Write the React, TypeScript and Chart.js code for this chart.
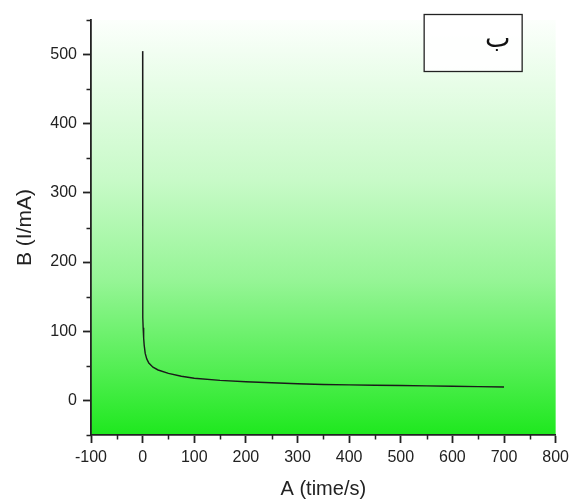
import React, { useEffect, useRef } from "react";
import { Chart, registerables } from "chart.js";

Chart.register(...registerables);

// ---- data ----
const timeValues = [0, 0.3, 1, 2, 3, 5, 8, 12, 20, 30, 50, 75, 100, 150, 200, 250, 300, 350, 400, 450, 500, 550, 600, 650, 700];
const currentValues = [505, 120, 105, 90, 80, 68, 60, 54, 48, 44, 39, 35, 32, 29, 27, 25.5, 24, 23, 22.5, 22, 21.5, 21, 20.5, 20, 19.5];
const xTitle = "A (time/s)";
const yTitle = "B (I/mA)";
const boxLabel = "ب";
const xMin = -100;
const xMax = 800;
const yMin = -50;
const yMax = 550;
const minorStep = 50;
const majorStep = 100;

const FONT = "'Liberation Sans', Arial, sans-serif";
const TEXT = "#222222";

const bgPlugin = {
  id: "bgGradient",
  beforeDraw(chart: any) {
    const { ctx, chartArea } = chart;
    if (!chartArea) return;
    const g = ctx.createLinearGradient(0, chartArea.top, 0, chartArea.bottom);
    g.addColorStop(0, "rgb(252,255,252)");
    g.addColorStop(0.385, "rgb(200,250,200)");
    g.addColorStop(0.627, "rgb(150,245,150)");
    g.addColorStop(0.85, "rgb(80,238,80)");
    g.addColorStop(1, "rgb(30,232,30)");
    ctx.save();
    ctx.fillStyle = g;
    ctx.fillRect(chartArea.left, chartArea.top, chartArea.right - chartArea.left, chartArea.bottom - chartArea.top);
    ctx.restore();
  },
};

const minorTickPlugin = {
  id: "minorTicks",
  afterDraw(chart: any) {
    const { ctx } = chart;
    const xs = chart.scales.x;
    const ys = chart.scales.y;
    ctx.save();
    ctx.strokeStyle = TEXT;
    ctx.lineWidth = 1.5;
    ctx.beginPath();
    xs.ticks.forEach((t: any) => {
      if (t.value % majorStep !== 0) {
        const px = Math.round(xs.getPixelForValue(t.value)) + 0.5;
        ctx.moveTo(px, ys.bottom);
        ctx.lineTo(px, ys.bottom + 4.5);
      }
    });
    ys.ticks.forEach((t: any) => {
      if (t.value % majorStep !== 0) {
        const py = Math.round(ys.getPixelForValue(t.value)) + 0.5;
        ctx.moveTo(xs.left, py);
        ctx.lineTo(xs.left - 4.5, py);
      }
    });
    ctx.stroke();
    ctx.restore();
  },
};

const boxPlugin = {
  id: "labelBox",
  afterDraw(chart: any) {
    const { ctx, chartArea } = chart;
    const bx = chartArea.right - 132;
    const by = chartArea.top - 6;
    const bw = 98;
    const bh = 57;
    ctx.save();
    ctx.fillStyle = "rgba(255,255,255,0.9)";
    ctx.fillRect(bx, by, bw, bh);
    ctx.strokeStyle = "#222";
    ctx.lineWidth = 1.3;
    ctx.strokeRect(bx + 0.5, by + 0.5, bw, bh);
    ctx.fillStyle = "#111";
    ctx.font = "27px 'DejaVu Sans', sans-serif";
    ctx.textAlign = "center";
    ctx.textBaseline = "alphabetic";
    ctx.fillText(boxLabel, bx + 74, by + 33);
    ctx.restore();
  },
};

export default function App() {
  const canvasRef = useRef<HTMLCanvasElement | null>(null);

  useEffect(() => {
    if (!canvasRef.current) return;
    const points = timeValues.map((t, i) => ({ x: t, y: currentValues[i] }));
    const majorColor = (c: any) =>
      c.tick && c.tick.value % majorStep === 0 ? TEXT : "rgba(0,0,0,0)";
    const chart = new Chart(canvasRef.current, {
      type: "line",
      data: {
        datasets: [
          {
            data: points,
            borderColor: "#1a1a1a",
            borderWidth: 1.4,
            pointRadius: 0,
            tension: 0,
            fill: false,
          },
        ],
      },
      options: {
        animation: false,
        responsive: true,
        maintainAspectRatio: false,
        layout: { padding: { left: 0, right: 16, top: 20, bottom: 0 } },
        plugins: {
          legend: { display: false },
          tooltip: { enabled: false },
        },
        scales: {
          x: {
            type: "linear",
            min: xMin,
            max: xMax,
            afterFit: (s: any) => {
              s.height = 68;
            },
            ticks: {
              stepSize: minorStep,
              autoSkip: false,
              maxRotation: 0,
              padding: 5,
              color: TEXT,
              font: { family: FONT, size: 16 },
              callback: (v: any) => (Number(v) % majorStep === 0 ? String(v) : ""),
            },
            grid: {
              drawOnChartArea: false,
              drawTicks: true,
              tickLength: 8,
              tickWidth: 1.8,
              tickColor: majorColor,
            },
            border: { display: true, color: TEXT, width: 1.8 },
            title: {
              display: true,
              text: xTitle,
              color: TEXT,
              font: { family: FONT, size: 20 },
              padding: { top: 0, bottom: 2 },
            },
          },
          y: {
            type: "linear",
            min: yMin,
            max: yMax,
            afterFit: (s: any) => {
              s.width = 91;
            },
            ticks: {
              stepSize: minorStep,
              autoSkip: false,
              padding: 6,
              color: TEXT,
              font: { family: FONT, size: 16 },
              callback: (v: any) => (Number(v) % majorStep === 0 ? String(v) : ""),
            },
            grid: {
              drawOnChartArea: false,
              drawTicks: true,
              tickLength: 8,
              tickWidth: 1.8,
              tickColor: majorColor,
            },
            border: { display: true, color: TEXT, width: 1.8 },
            title: {
              display: true,
              text: yTitle,
              color: TEXT,
              font: { family: FONT, size: 21 },
              padding: { top: 13, bottom: 0 },
            },
          },
        },
      },
      plugins: [bgPlugin, minorTickPlugin, boxPlugin],
    } as any);
    return () => chart.destroy();
  }, []);

  return (
    <div style={{ position: "fixed", left: 0, top: 0, width: 574, height: 503, background: "#fff" }}>
      <canvas ref={canvasRef} />
    </div>
  );
}
